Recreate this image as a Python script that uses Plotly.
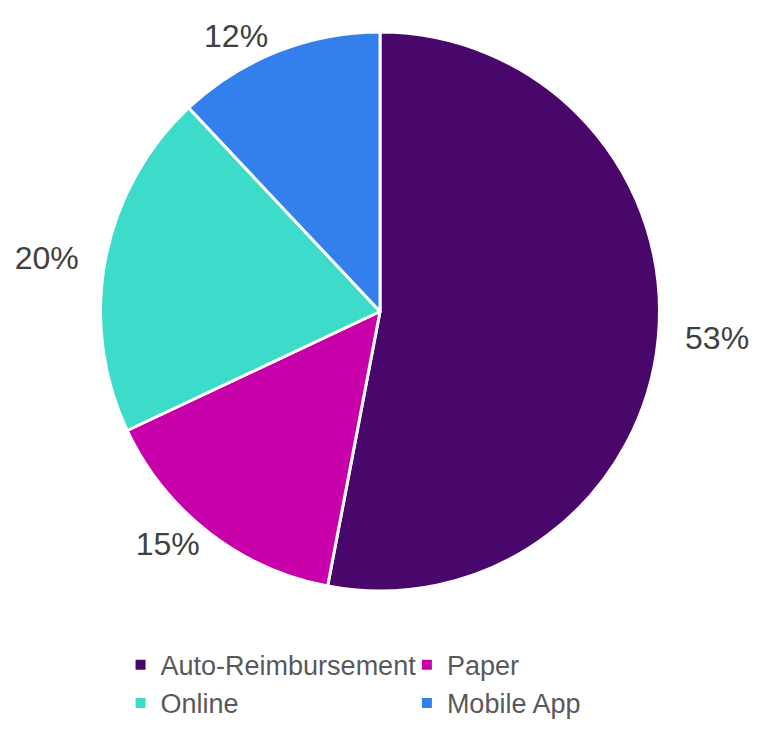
import plotly.graph_objects as go

labels = ["Auto-Reimbursement", "Paper", "Online", "Mobile App"]
values = [53, 15, 20, 12]
colors = ["#4a076b", "#c700a9", "#3ddbca", "#3380ec"]
label_templates = ["  %{percent:.0%}", "%{percent:.0%}", "%{percent:.0%}  ", "%{percent:.0%}"]
# legend column for each category (left column / right column)
legend_column = ["legend", "legend2", "legend", "legend2"]

fig = go.Figure()

fig.add_trace(go.Pie(
    labels=labels,
    values=values,
    sort=False,
    direction="clockwise",
    rotation=0,
    marker=dict(colors=colors, line=dict(color="white", width=3)),
    texttemplate=label_templates,
    textposition="outside",
    outsidetextfont=dict(family="Liberation Sans", size=32, color="#404040"),
    domain=dict(x=[0, 1], y=[(734 - 591) / 734, (734 - 32) / 734]),
    hoverinfo="label+percent",
    showlegend=False,
))

# legend entries (one per category), placed in two columns
for lab, col, lg in zip(labels, colors, legend_column):
    fig.add_trace(go.Scatter(
        x=[None], y=[None], mode="markers", name=lab,
        marker=dict(symbol="square", size=10, color=col),
        legend=lg, showlegend=True, hoverinfo="skip",
    ))

legend_font = dict(family="Liberation Sans", size=27, color="#595959")

fig.update_layout(
    width=763, height=734,
    margin=dict(l=0, r=0, t=0, b=0),
    paper_bgcolor="white",
    plot_bgcolor="white",
    xaxis=dict(visible=False),
    yaxis=dict(visible=False),
    legend=dict(
        orientation="v", x=0.0367, y=0.127, xanchor="left", yanchor="top",
        itemwidth=30, font=legend_font, traceorder="normal",
        bgcolor="rgba(0,0,0,0)",
    ),
    legend2=dict(
        orientation="v", x=0.548, y=0.127, xanchor="left", yanchor="top",
        itemwidth=30, font=legend_font, traceorder="normal",
        bgcolor="rgba(0,0,0,0)",
    ),
)

fig.write_html("out.html")
